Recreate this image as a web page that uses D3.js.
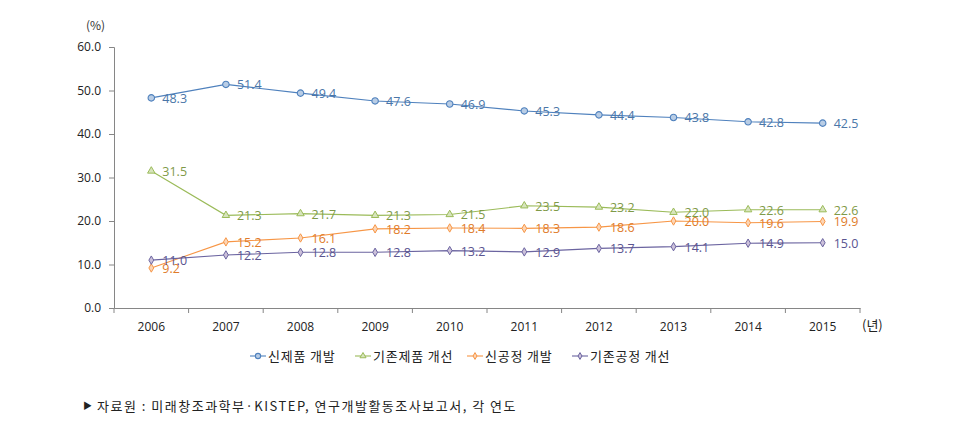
<!DOCTYPE html>
<html><head><meta charset="utf-8">
<script src="https://cdn.jsdelivr.net/npm/d3@7"></script>
<style>
html,body{margin:0;padding:0;background:#fff;}
svg{display:block;font-family:"Malgun Gothic","Noto Sans CJK KR",sans-serif;}
</style></head>
<body><svg id="c" width="966" height="438"></svg>
<script>
const years = ["2006","2007","2008","2009","2010","2011","2012","2013","2014","2015"];
const newProduct = [48.3, 51.4, 49.4, 47.6, 46.9, 45.3, 44.4, 43.8, 42.8, 42.5];
const existProduct = [31.5, 21.3, 21.7, 21.3, 21.5, 23.5, 23.2, 22.0, 22.6, 22.6];
const newProcess = [9.2, 15.2, 16.1, 18.2, 18.4, 18.3, 18.6, 20.0, 19.6, 19.9];
const existProcess = [11.0, 12.2, 12.8, 12.8, 13.2, 12.9, 13.7, 14.1, 14.9, 15.0];
const seriesNames = ["신제품 개발","기존제품 개선","신공정 개발","기존공정 개선"];
const yTicks = [0,10,20,30,40,50,60];

const series = [
  {name: seriesNames[0], values: newProduct, color:"#4f81bd", fill:"#b9cde5", text:"#4a76a8", shape:"circle"},
  {name: seriesNames[1], values: existProduct, color:"#9bbb59", fill:"#d7e4bd", text:"#7f9a48", shape:"triangle"},
  {name: seriesNames[2], values: newProcess, color:"#f79646", fill:"#fcd5b5", text:"#e07b2a", shape:"diamond"},
  {name: seriesNames[3], values: existProcess, color:"#6b64a0", fill:"#ccc1da", text:"#5a5490", shape:"diamond"}
];

const svg = d3.select("#c");
const mLeft = 114, mRight = 860, mTop = 47, mBottom = 308;
const x = d3.scaleBand().domain(years).range([mLeft, mRight]);
const y = d3.scaleLinear().domain([0,60]).range([mBottom, mTop]);
const axisColor = "#868686";

// y axis
const ya = svg.append("g").attr("transform",`translate(${mLeft},0)`)
  .call(d3.axisLeft(y).tickValues(yTicks).tickFormat(d3.format(".1f")).tickSize(5).tickPadding(8));
ya.select(".domain").attr("stroke",axisColor);
ya.selectAll(".tick line").attr("stroke",axisColor);
ya.selectAll("text").attr("font-size",12).attr("fill","#222").attr("font-family","'Open Sans','Noto Sans',sans-serif");

// x axis
const xa = svg.append("g").attr("transform",`translate(0,${mBottom})`)
  .call(d3.axisBottom(x).tickSize(0).tickPadding(14));
xa.select(".domain").attr("stroke",axisColor);
xa.selectAll("text").attr("font-size",12).attr("fill","#222").attr("font-family","'Open Sans','Noto Sans',sans-serif");
const bounds = years.map(d=>x(d)).concat([mRight]);
svg.append("g").selectAll("line").data(bounds).join("line")
  .attr("x1",d=>d).attr("x2",d=>d).attr("y1",mBottom).attr("y2",mBottom+5)
  .attr("stroke",axisColor);

svg.append("text").attr("x",86).attr("y",30).attr("font-size",12).attr("fill","#333").text("(%)");
svg.append("text").attr("x",862).attr("y",330).attr("font-size",13).attr("fill","#222").text("(년)");

const cx = d => x(d) + x.bandwidth()/2;
function marker(g, shape, color, fill, size){
  if(shape==="circle") g.append("circle").attr("r",size*0.75).attr("fill",fill).attr("stroke",color).attr("stroke-width",1.1);
  else if(shape==="triangle") g.append("path").attr("d",d3.symbol(d3.symbolTriangle, size*size*1.3)()).attr("fill",fill).attr("stroke",color);
  else g.append("path").attr("d",d3.symbol(d3.symbolDiamond, size*size*1.1)()).attr("fill",fill).attr("stroke",color);
}

const line = d3.line().x((d,i)=>cx(years[i])).y(d=>y(d));
series.forEach(s=>{
  svg.append("path").datum(s.values).attr("d",line).attr("fill","none").attr("stroke",s.color).attr("stroke-width",1.1);
  s.values.forEach((v,i)=>{
    const g = svg.append("g").attr("transform",`translate(${cx(years[i])},${y(v)})`);
    marker(g, s.shape, s.color, s.fill, 4.3);
    svg.append("text").attr("x",cx(years[i])+11).attr("y",y(v)+5)
      .attr("font-size",12.5).attr("fill",s.text).attr("font-family","'Open Sans','Noto Sans',sans-serif")
      .text(d3.format(".1f")(v));
  });
});

// legend
const legX = [250, 355, 467, 572];
series.forEach((s,i)=>{
  const lx = legX[i], ly = 356;
  svg.append("line").attr("x1",lx).attr("x2",lx+16).attr("y1",ly).attr("y2",ly).attr("stroke",s.color).attr("stroke-width",1.1);
  const g = svg.append("g").attr("transform",`translate(${lx+8},${ly})`);
  marker(g, s.shape, s.color, s.fill, 3.5);
  svg.append("text").attr("x",lx+18).attr("y",ly+4.5).attr("font-size",13).attr("letter-spacing",0.8).attr("fill","#222").text(s.name);
});

svg.append("text").attr("x",83).attr("y",409).attr("font-size",9).attr("fill","#222").text("▶");
svg.append("text").attr("x",97).attr("y",411).attr("font-size",13).attr("letter-spacing",1.5).attr("fill","#222")
  .text("자료원 : 미래창조과학부·KISTEP, 연구개발활동조사보고서, 각 연도");
</script></body></html>
